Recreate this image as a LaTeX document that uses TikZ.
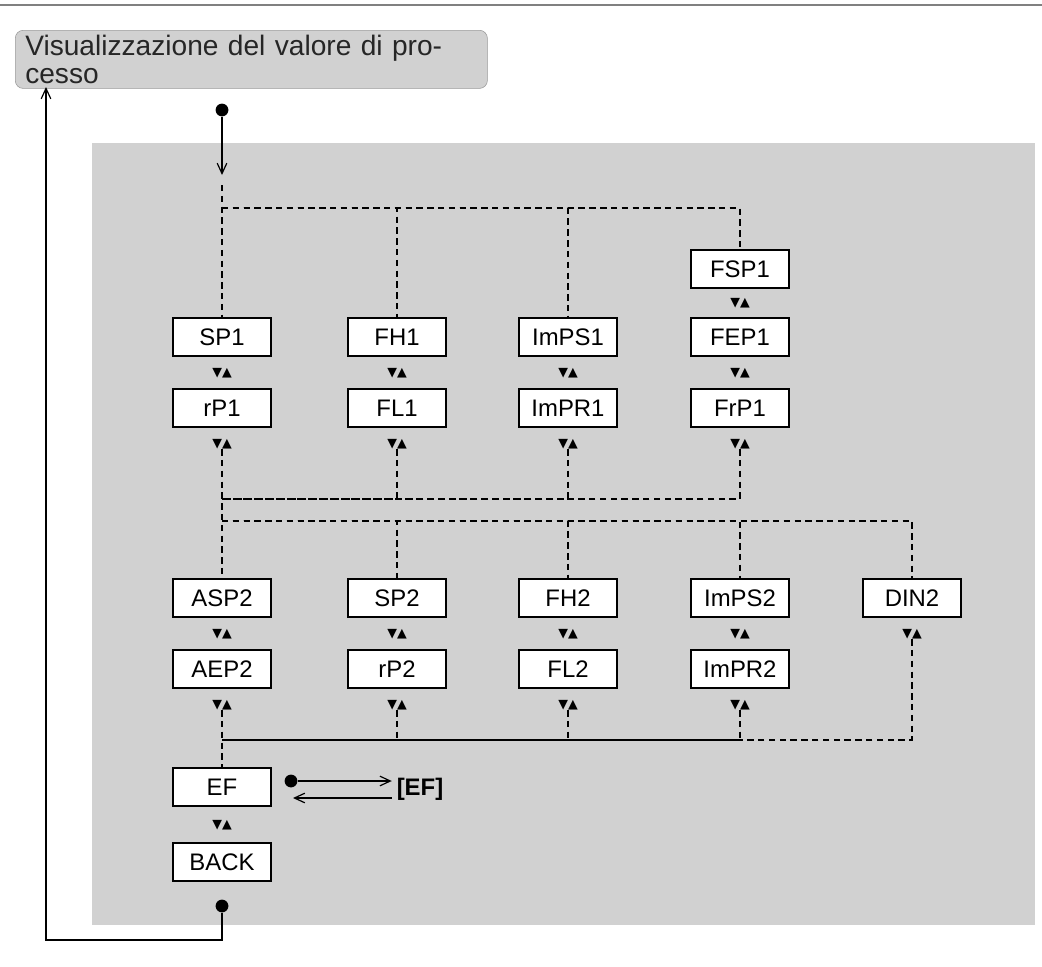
\documentclass[tikz,border=0pt]{standalone}
\usepackage{fontspec}
\setmainfont{Liberation Sans}
\newfontfamily\symfont{DejaVu Sans}
\usetikzlibrary{arrows.meta,positioning,calc,backgrounds}
\newcommand{\updn}{{\symfont\fontsize{9}{9}\selectfont ▼▲}}
\begin{document}
\begin{tikzpicture}
[x=0.025cm,y=-0.025cm,
edge/.style={black,line width=.3mm,-{Straight Barb[length=2.6mm,width=2.4mm]}},
dashline/.style={black,line width=.35mm,dash pattern=on 1.6mm off 1.1mm},
block/.style={draw=black,line width=.45mm,fill=white,minimum width=2.45cm,
minimum height=.95cm,inner sep=0pt,font=\fontsize{17}{17}\selectfont},
ud/.style={inner sep=0pt},
dot/.style={circle,fill=black,inner sep=0pt,minimum size=3.2mm}]
\useasboundingbox (0,0) rectangle (1042,967);
\draw[gray,line width=.7mm] (0,5) -- (1042,5);
%%
\node (head) [draw=gray!80,fill=black!18,rounded corners=2mm,minimum width=11.8cm,
minimum height=1.45cm,anchor=north west,font=\fontsize{20}{20}\selectfont,
text=black!85,align=left,text width=11.3cm] at (15,30) {Visualizzazione del valore di processo};
\begin{pgfonlayer}{background}
\fill[black!18] (92,143) rectangle (1035,925);
\end{pgfonlayer}
%%
\node[block] (sp1) at (222,337) {SP1};
\node[block] (fh1) at (397,337) {FH1};
\node[block] (imps1) at (568,337) {ImPS1};
\node[block] (fsp1) at (740,269) {FSP1};
\node[block] (fep1) at (740,337) {FEP1};
\node[block] (rp1) at (222,408) {rP1};
\node[block] (fl1) at (397,408) {FL1};
\node[block] (impr1) at (568,408) {ImPR1};
\node[block] (frp1) at (740,408) {FrP1};
%%
\node[block] (asp2) at (222,598) {ASP2};
\node[block] (sp2) at (397,598) {SP2};
\node[block] (fh2) at (568,598) {FH2};
\node[block] (imps2) at (740,598) {ImPS2};
\node[block] (din2) at (912,598) {DIN2};
\node[block] (aep2) at (222,669) {AEP2};
\node[block] (rp2) at (397,669) {rP2};
\node[block] (fl2) at (568,669) {FL2};
\node[block] (impr2) at (740,669) {ImPR2};
%%
\node[block] (ef) at (222,787) {EF};
\node[block] (back) at (222,862) {BACK};
%%
\node[ud] (u1) at (740,303) {\updn};
\node[ud] (u2) at (222,373) {\updn};
\node[ud] (u3) at (397,373) {\updn};
\node[ud] (u4) at (568,373) {\updn};
\node[ud] (u5) at (740,373) {\updn};
\node[ud] (u6) at (222,444) {\updn};
\node[ud] (u7) at (397,444) {\updn};
\node[ud] (u8) at (568,444) {\updn};
\node[ud] (u9) at (740,444) {\updn};
\node[ud] (u10) at (222,634) {\updn};
\node[ud] (u11) at (397,634) {\updn};
\node[ud] (u12) at (568,634) {\updn};
\node[ud] (u13) at (740,634) {\updn};
\node[ud] (u14) at (912,634) {\updn};
\node[ud] (u15) at (222,705) {\updn};
\node[ud] (u16) at (397,705) {\updn};
\node[ud] (u17) at (568,705) {\updn};
\node[ud] (u18) at (740,705) {\updn};
\node[ud] (u19) at (222,825) {\updn};
%%
\node[dot] (start) at (222,110) {};
\coordinate (in) at (222,175);
\draw[edge] (start) -- (in);
\draw[dashline] (222,185) -- (sp1.north);
\draw[dashline] (222,208) -| (fh1.north);
\draw[dashline] (222,208) -| (imps1.north);
\draw[dashline] (222,208) -| (fsp1.north);
%%
\draw[dashline] (u6.south) -- (asp2.north);
\draw[dashline] (u7.south) |- (222,499);
\draw[dashline] (u8.south) |- (222,499);
\draw[dashline] (u9.south) |- (222,499);
\draw[dashline] (222,521) -| (sp2.north);
\draw[dashline] (222,521) -| (fh2.north);
\draw[dashline] (222,521) -| (imps2.north);
\draw[dashline] (222,521) -| (din2.north);
%%
\draw[dashline] (u15.south) -- (ef.north);
\draw[dashline] (u16.south) |- (222,740);
\draw[dashline] (u17.south) |- (222,740);
\draw[dashline] (u18.south) |- (222,740);
\draw[dashline] (u14.south) |- (222,740);
%%
\node[dot] (efdot) at (291,781) {};
\node (eftext) at (420,789) {\fontsize{17}{17}\selectfont\bfseries [EF]};
\coordinate (efret) at (293,798);
\draw[edge] (efdot) -- (eftext.west |- efdot);
\draw[edge] (eftext.west |- efret) -- (efret);
%%
\node[dot] (enddot) at (222,906) {};
\coordinate (corner) at (46,940);
\coordinate (up) at (46,87);
\draw[edge] (enddot) -- (222,940) -- (corner) -- (up);
\end{tikzpicture}
\end{document}
